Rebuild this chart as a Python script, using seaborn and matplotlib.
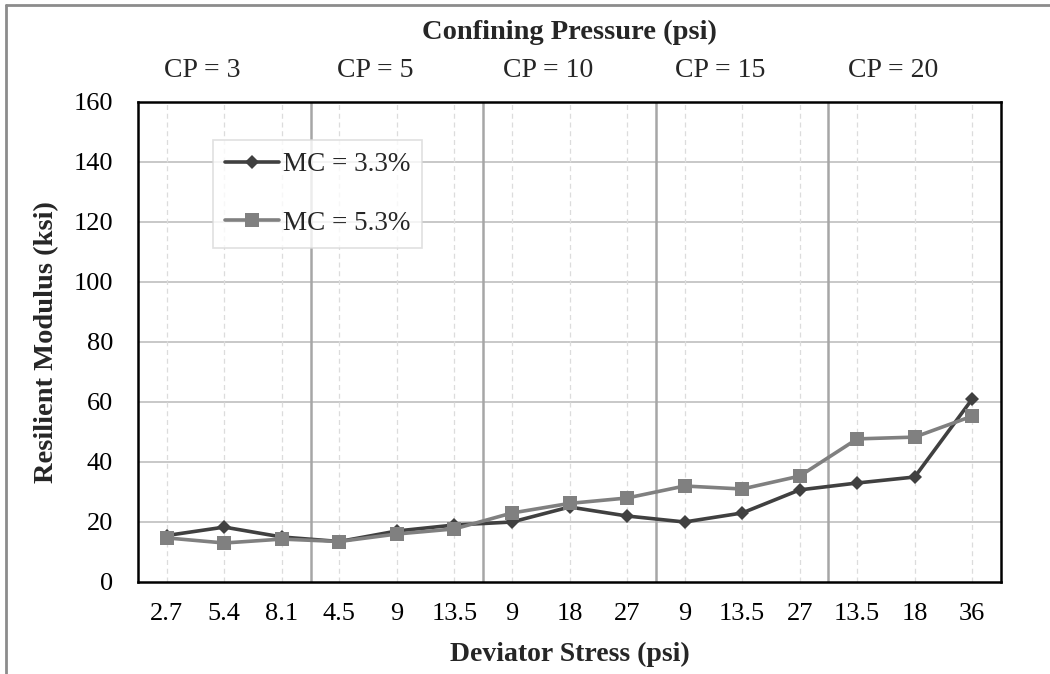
import numpy as np
import pandas as pd
import matplotlib
matplotlib.use("Agg")
import matplotlib.pyplot as plt
from matplotlib.lines import Line2D
import seaborn as sns

# ---- data ----
deviator_labels = ["2.7", "5.4", "8.1", "4.5", "9", "13.5", "9", "18", "27",
                   "9", "13.5", "27", "13.5", "18", "36"]
cp_labels = ["CP = 3", "CP = 5", "CP = 10", "CP = 15", "CP = 20"]
mc33 = [15.5, 18.3, 15.0, 13.5, 17.0, 19.0, 20.0, 25.0, 22.0, 20.0, 23.0, 30.7, 33.0, 35.0, 61.0]
mc53 = [14.7, 13.0, 14.3, 13.5, 16.0, 17.7, 23.0, 26.2, 28.0, 32.0, 31.0, 35.3, 47.7, 48.3, 55.3]
series_names = ["MC = 3.3%", "MC = 5.3%"]

sns.set_theme(style="white")
plt.rcParams["font.family"] = ["Liberation Serif", "DejaVu Serif"]

pos = np.arange(len(deviator_labels))
df = pd.DataFrame({
    "pos": np.concatenate([pos, pos]),
    "value": mc33 + mc53,
    "series": [series_names[0]] * len(pos) + [series_names[1]] * len(pos),
})

DARK, GRAY = "#404040", "#808080"
LW = 2.6
MS_D, MS_S = 7, 10

fig = plt.figure(figsize=(10.5, 6.74), dpi=100)
ax = fig.add_axes([138 / 1050, 1 - 582 / 674, (1001 - 138) / 1050, (582 - 102) / 674])

# grid
for yv in range(20, 160, 20):
    ax.axhline(yv, color="#c4c4c4", lw=1.3, zorder=0)
for p in pos:
    ax.axvline(p, color="#dcdcdc", lw=0.9, ls=(0, (4, 3)), zorder=0)
group = 3
for k in range(1, len(cp_labels)):
    ax.axvline(k * group - 0.5, color="#a6a6a6", lw=1.8, zorder=1)

sns.lineplot(data=df, x="pos", y="value", hue="series", style="series",
             palette={series_names[0]: DARK, series_names[1]: GRAY},
             markers={series_names[0]: "D", series_names[1]: "s"},
             dashes=False, linewidth=LW, ax=ax, legend=False, zorder=3)
lines = ax.get_lines()[-2:]
lines[0].set_markersize(MS_D)
lines[1].set_markersize(MS_S)
for ln in lines:
    ln.set_markeredgewidth(0)

ax.set_xlim(-0.5, len(pos) - 0.5)
ax.set_ylim(0, 160)
ax.set_yticks(range(0, 161, 20))
ax.set_xticks(pos)
ax.set_xticklabels(deviator_labels)
ax.tick_params(axis="both", length=0, labelsize=19, colors="#000000")
ax.tick_params(axis="x", pad=15)
ax.tick_params(axis="y", pad=18)
for s in ax.spines.values():
    s.set_color("black")
    s.set_linewidth(1.8)

ax.set_xlabel("Deviator Stress (psi)", fontsize=20, fontweight="bold", labelpad=12)
ax.set_ylabel("Resilient Modulus (ksi)", fontsize=20.5, fontweight="bold", labelpad=10)

# confining pressure labels
for i, lab in enumerate(cp_labels):
    ax.text(i * group + 1 - 0.38, 1.04, lab, transform=ax.get_xaxis_transform(),
            ha="center", va="bottom", fontsize=20)
ax.text(0.5, 1.118, "Confining Pressure (psi)", transform=ax.transAxes,
        ha="center", va="bottom", fontsize=20.5, fontweight="bold")

handles = [Line2D([0], [0], color=DARK, lw=LW, marker="D", markersize=MS_D, markeredgewidth=0),
           Line2D([0], [0], color=GRAY, lw=LW, marker="s", markersize=MS_S, markeredgewidth=0)]
leg = ax.legend(handles, series_names, loc="upper left", bbox_to_anchor=(0.087, 0.921),
                fontsize=19.5, frameon=True, fancybox=False, handlelength=2.0,
                handletextpad=0.12, labelspacing=1.25, borderpad=0.45, borderaxespad=0)
leg.get_frame().set_edgecolor("#d9d9d9")
leg.get_frame().set_linewidth(1.2)

# outer frame (top and left)
fig.add_artist(Line2D([6 / 1050, 1], [1 - 5 / 674, 1 - 5 / 674], transform=fig.transFigure,
                      color="#8c8c8c", lw=2))
fig.add_artist(Line2D([6 / 1050, 6 / 1050], [0, 1 - 5 / 674], transform=fig.transFigure,
                      color="#8c8c8c", lw=2))

fig.savefig("out.png", dpi=100)
